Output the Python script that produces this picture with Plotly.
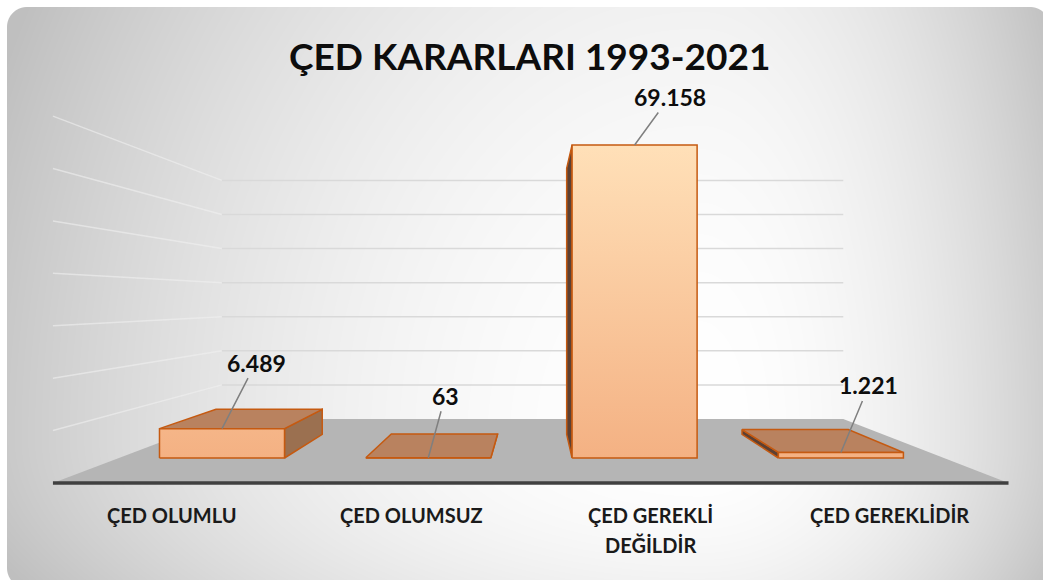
import base64
import struct
import zlib

import numpy as np
import plotly.graph_objects as go

# ---------------- data ----------------
title_text = "ÇED KARARLARI 1993-2021"
categories = ["ÇED OLUMLU", "ÇED OLUMSUZ", "ÇED GEREKLİ\nDEĞİLDİR", "ÇED GEREKLİDİR"]
values = [6489, 63, 69158, 1221]
grid_values = [10000, 20000, 30000, 40000, 50000, 60000, 70000]

# ---------------- style / layout constants ----------------
W, H = 1043, 580
CAT_PX = 206.3          # pixels per category on the bar-front plane
X0_PX = 222.0           # pixel x of first category centre
BASE_PX = 458.0         # pixel y of the value 0 on the bar-front plane
VAL_PX = 0.004526       # pixels per value unit on the bar-front plane
VP_PX = (536.0, 300.0)  # vanishing point of the perspective
S_FRONT = 1.158         # depth scale of the floor front edge
S_BARBACK = 0.85        # depth scale of the bar backs
S_WALL = 0.753          # depth scale of the back wall
HALF_W = 0.303          # bar half width (category units)
label_offsets = [(34, -66), (17, -62), (35, -48), (28, -67)]

FRONT_BOTTOM = "#F4B183"
FRONT_TOP = "#FFE0B8"
TOP_FACE = "#B9825F"
RIGHT_FACE = "#9B7050"
LEFT_FACE = "#5C4033"
EDGE = "#C55A11"
FLOOR = "#B5B5B5"
GRID = "#D9D9D9"
SIDE_GRID = "rgba(240,240,240,0.6)"
TEXT = "#0D0D0D"
FONT = "Lato"


def px_to_data(px, py):
    return (px - X0_PX) / CAT_PX, (BASE_PX - py) / VAL_PX


VPX, VPY = px_to_data(*VP_PX)


def proj(i, v, s):
    return VPX + (i - VPX) * s, VPY + (v - VPY) * s


# ---------------- background gradient (PNG data uri) ----------------
def background_uri():
    yy, xx = np.mgrid[0:H, 0:W].astype(float)
    xx += 0.5
    yy += 0.5
    cx, cy = 700.0, 440.0
    dx = xx - cx
    dy = yy - cy
    rx = np.where(dx < 0, 760.0, 400.0)
    ry = np.where(dy < 0, 950.0, 320.0)
    r = np.sqrt((dx / rx) ** 2 + (dy / ry) ** 2)
    t = np.clip(r, 0, 1) ** 2
    g = 255.0 - 64.0 * t
    # rounded rectangle alpha
    x0, y0, x1, y1, rad = 7.0, 7.0, 1050.0, 588.0, 20.0
    ccx = np.clip(xx, x0 + rad, x1 - rad)
    ccy = np.clip(yy, y0 + rad, y1 - rad)
    d = np.hypot(xx - ccx, yy - ccy) - rad
    a = np.clip(0.5 - d, 0, 1) * 255.0
    img = np.zeros((H, W, 4), dtype=np.uint8)
    img[..., 0] = g.astype(np.uint8)
    img[..., 1] = g.astype(np.uint8)
    img[..., 2] = g.astype(np.uint8)
    img[..., 3] = a.astype(np.uint8)
    raw = b"".join(b"\x00" + img[r_].tobytes() for r_ in range(H))

    def chunk(tag, data):
        c = struct.pack(">I", len(data)) + tag + data
        return c + struct.pack(">I", zlib.crc32(tag + data) & 0xFFFFFFFF)

    png = b"\x89PNG\r\n\x1a\n"
    png += chunk(b"IHDR", struct.pack(">IIBBBBB", W, H, 8, 6, 0, 0, 0))
    png += chunk(b"IDAT", zlib.compress(raw, 9))
    png += chunk(b"IEND", b"")
    return "data:image/png;base64," + base64.b64encode(png).decode()


fig = go.Figure()


def poly(pts, fill=None, line=EDGE, width=1.5, gradient=None):
    xs = [p[0] for p in pts] + [pts[0][0]]
    ys = [p[1] for p in pts] + [pts[0][1]]
    kw = dict(x=xs, y=ys, mode="lines", fill="toself",
              line=dict(color=line, width=width),
              hoverinfo="skip", showlegend=False)
    if gradient is not None:
        kw["fillgradient"] = gradient
    else:
        kw["fillcolor"] = fill
    fig.add_trace(go.Scatter(**kw))


xl, xr = -0.5, len(categories) - 0.5

# gridlines: left wall (faint) and back wall
sx, sy, bx, by = [], [], [], []
for gv in grid_values:
    a = proj(xl, gv, S_WALL)
    b = proj(xr, gv, S_WALL)
    c = proj(xl, gv, S_FRONT)
    sx += [c[0], a[0], None]
    sy += [c[1], a[1], None]
    bx += [a[0], b[0], None]
    by += [a[1], b[1], None]
fig.add_trace(go.Scatter(x=sx, y=sy, mode="lines", line=dict(color=SIDE_GRID, width=1.5),
                         hoverinfo="skip", showlegend=False))
fig.add_trace(go.Scatter(x=bx, y=by, mode="lines", line=dict(color=GRID, width=1.5),
                         hoverinfo="skip", showlegend=False))

# floor
poly([proj(xl, 0, S_WALL), proj(xr, 0, S_WALL), proj(xr, 0, S_FRONT), proj(xl, 0, S_FRONT)],
     fill=FLOOR, line="rgba(0,0,0,0)", width=0)
fa, fb = proj(xl, 0, S_FRONT), proj(xr, 0, S_FRONT)
fig.add_trace(go.Scatter(x=[fa[0], fb[0]], y=[fa[1], fb[1]], mode="lines",
                         line=dict(color="#404040", width=3.5),
                         hoverinfo="skip", showlegend=False))

# bars
vmax = max(values)
grad = dict(type="vertical", colorscale=[[0, FRONT_BOTTOM], [1, FRONT_TOP]], start=0, stop=vmax)
for i, v in enumerate(values):
    l, r = i - HALF_W, i + HALF_W
    if r < VPX:
        poly([(r, 0), (r, v), proj(r, v, S_BARBACK), proj(r, 0, S_BARBACK)], fill=RIGHT_FACE)
    if l > VPX:
        poly([(l, 0), (l, v), proj(l, v, S_BARBACK), proj(l, 0, S_BARBACK)], fill=LEFT_FACE)
    if v < VPY:
        poly([(l, v), (r, v), proj(r, v, S_BARBACK), proj(l, v, S_BARBACK)], fill=TOP_FACE)
    poly([(l, 0), (r, 0), (r, v), (l, v)], gradient=grad)

annotations = []
# value labels with leader lines
for i, v in enumerate(values):
    dx, dy = label_offsets[i]
    annotations.append(dict(
        x=i, y=v, xref="x", yref="y", text=f"{v:,}".replace(",", "."),
        showarrow=True, arrowhead=0, arrowwidth=1.5, arrowcolor="#7F7F7F",
        ax=dx, ay=dy, font=dict(family=FONT, size=23, color=TEXT, weight="bold")))

# category labels under the floor front edge
for i, cat in enumerate(categories):
    fx, fy = proj(i, 0, S_FRONT)
    for k, line in enumerate(cat.split("\n")):
        annotations.append(dict(
            x=fx, y=fy, xref="x", yref="y", text=line, showarrow=False,
            yanchor="middle", xanchor="center", yshift=-32 - 30 * k,
            font=dict(family=FONT, size=20, color="#1A1A1A", weight="bold")))

annotations.append(dict(
    x=529 / W, y=1 - 55 / H, xref="paper", yref="paper", text=title_text,
    showarrow=False, xanchor="center", yanchor="middle",
    font=dict(family=FONT, size=37, color=TEXT, weight="bold")))

fig.update_layout(
    width=W, height=H, autosize=False,
    margin=dict(l=0, r=0, t=0, b=0, pad=0),
    paper_bgcolor="white", plot_bgcolor="rgba(0,0,0,0)",
    xaxis=dict(visible=False, range=[-X0_PX / CAT_PX, (W - X0_PX) / CAT_PX], fixedrange=True),
    yaxis=dict(visible=False, range=[-(H - BASE_PX) / VAL_PX, BASE_PX / VAL_PX], fixedrange=True),
    annotations=annotations,
    images=[dict(source=background_uri(), xref="paper", yref="paper", x=0, y=1,
                 sizex=1, sizey=1, sizing="stretch", xanchor="left", yanchor="top",
                 layer="below")],
    showlegend=False,
)

fig.write_html(
    "out.html",
    config={"displayModeBar": False},
    post_script="document.body.style.margin='0';document.body.style.overflow='hidden';",
)
